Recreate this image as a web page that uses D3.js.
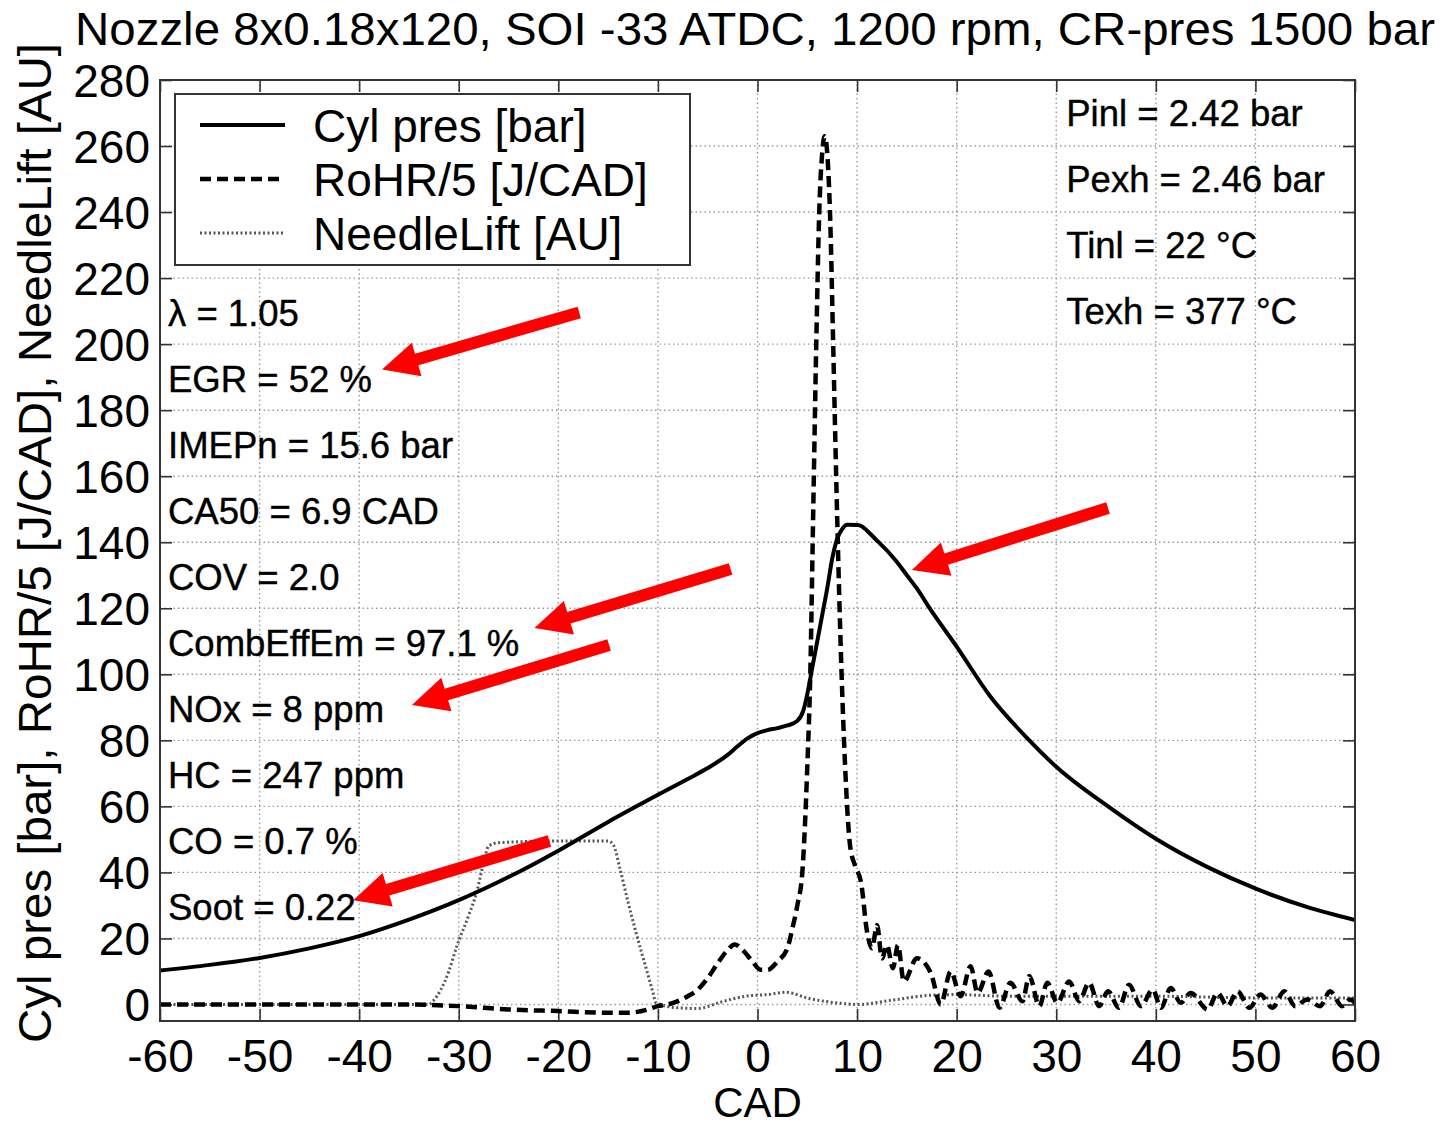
<!DOCTYPE html>
<html><head><meta charset="utf-8">
<script src="https://cdn.jsdelivr.net/npm/d3@7"></script>
<style>
html,body{margin:0;padding:0;background:#fff;}
svg{display:block;font-family:"Liberation Sans",Arial,sans-serif;}
</style></head>
<body><svg id="chart" width="1448" height="1126"></svg>
<script>
// ---------- data ----------
const titleText = "Nozzle 8x0.18x120, SOI -33 ATDC, 1200 rpm, CR-pres 1500 bar";
const xLabel = "CAD";
const yLabel = "Cyl pres [bar], RoHR/5 [J/CAD], NeedleLift [AU]";
const xTicks = [-60,-50,-40,-30,-20,-10,0,10,20,30,40,50,60];
const yTicks = [0,20,40,60,80,100,120,140,160,180,200,220,240,260,280];
const seriesNames = ["Cyl pres [bar]", "RoHR/5 [J/CAD]", "NeedleLift [AU]"];

const pressCad = [-60,-55,-50,-45,-40,-35,-30,-25,-20,-15,-10,-7,-5,-3,-2,-1,0,1,2,3,4,4.6,5,5.5,6,6.5,7,7.5,8,8.5,9,10,10.5,11,12,13,14,15,16,17.4,20,23.4,27.3,30,35.2,40,45.2,50.1,55.3,60];
const pressVal = [10.3,12,14.1,17,20.7,25.7,31.6,38.6,46.6,55.3,63.5,68.3,71.6,75.6,78.2,80.6,82.2,83.1,83.7,84.5,85.9,89,94,102,110,118,126,135,141,144,145.3,145.2,144.8,143.5,140.5,137.5,134,130,126,119.5,108.4,93.2,80,72,60,50.2,41.6,35,29.4,25.6];

const rohrCad = [-60,-50,-40,-35,-30,-25,-20,-15,-13,-11,-10,-9,-8,-7,-6,-5,-4,-3,-2.3,-1.5,-0.5,0.3,1,2,3,3.5,4,4.5,5,5.3,5.6,5.9,6.2,6.5,6.75,7,7.3,7.6,7.9,8.3,8.8,9.3,9.8,10.4,11,11.5,12,12.5,13,13.6,14.1,14.7,16,17.4,18.4,19.4,20.4,21.4,22.1,23.2,24.3,25.4,26.6,27.3,28.3,29.1,30.1,31.3,32.3,33.3,34.3,35.2,36.3,37.3,38.5,39.7,40.5,41.5,42.5,43.5,45.2,46.2,47.2,48.2,49.4,50.5,51.7,52.9,54,55.2,56.5,57.5,58.7,59.5,60];
const rohrVal = [0,0,0,0,-0.5,-1.5,-2,-2.5,-2.5,-1.5,-0.5,0,1,2.5,4.5,8,12.5,16.5,18.2,16.5,13,10.5,10.5,13,17,23,30,40,72,100,150,200,240,258,263,258,238,200,160,114,72,48,42,37,22,17,24,14,18,11,18,7,14,9.6,0,10,2.5,11.6,3.5,10,-1,6.6,1,8.6,-0.5,6.6,0.5,7,1,6.6,-0.5,4,-1,6,-0.5,4.5,-1,5,0.5,3.5,-1.5,3.5,-0.5,4,-1,3,-1,4,-0.5,1.5,-0.5,4,-0.5,1.5,0.5];

const needleCad = [-60,-40,-33,-32.6,-31,-30.2,-29,-28.2,-27.5,-27,-26,-20,-15,-14.5,-13.8,-13,-12.1,-11,-10.5,-10.2,-8,-6,-3.6,-1,1,2.8,5.2,8.6,10.1,13.5,17.4,20,25,30,40,50,60];
const needleVal = [0,0,0,1,10,17.6,27,34,43,48,49,49.5,49.5,48.5,41,31,20.7,9,3.6,0.5,-1,-1.2,0.8,2.6,3,3.7,1.8,0.3,0,1.3,2.8,3,2.5,2.5,2.5,2,2];

const leftNotes = ["\u03bb = 1.05","EGR = 52 %","IMEPn = 15.6 bar","CA50 = 6.9 CAD","COV = 2.0","CombEffEm = 97.1 %","NOx = 8 ppm","HC = 247 ppm","CO = 0.7 %","Soot = 0.22"];
const rightNotes = ["Pinl = 2.42 bar","Pexh = 2.46 bar","Tinl = 22 \u00b0C","Texh = 377 \u00b0C"];

// red arrows: tail -> tip, in data units (CAD, value)
const arrowTail = [[-17.9,209.6],[-2.7,131.9],[-14.9,108.9],[-20.9,49.5],[35.2,150.4]];
const arrowTip  = [[-37.7,192.3],[-22.4,114.0],[-34.7,90.7],[-40.6,31.6],[15.5,131.6]];

// ---------- layout ----------
const svg = d3.select("#chart");
const L = 160, R = 1355, T = 80, B = 1021;
const x = d3.scaleLinear().domain([-60,60]).range([L,R]);
const y = d3.scaleLinear().domain([-5,280]).range([B,T]);

svg.append("rect").attr("width",1448).attr("height",1126).attr("fill","#fff");

// grid
const grid = svg.append("g");
grid.selectAll(".gx").data(xTicks.slice(1,-1)).join("line")
  .attr("x1",d=>x(d)).attr("x2",d=>x(d)).attr("y1",T).attr("y2",B)
  .attr("stroke","#9a9a9a").attr("stroke-width",1.4).attr("stroke-dasharray","1.5,3");
grid.selectAll(".gy").data(yTicks).join("line")
  .attr("x1",L).attr("x2",R).attr("y1",d=>y(d)).attr("y2",d=>y(d))
  .attr("stroke","#9a9a9a").attr("stroke-width",1.4).attr("stroke-dasharray","1.5,3");

// axes via d3
const fs = 46;
const fmt = d => String(d);
const xAxisB = svg.append("g").attr("transform",`translate(0,${B})`)
  .call(d3.axisBottom(x).tickValues(xTicks).tickFormat(fmt).tickSizeInner(-12).tickSizeOuter(0).tickPadding(18));
const xAxisT = svg.append("g").attr("transform",`translate(0,${T})`)
  .call(d3.axisTop(x).tickValues(xTicks).tickSizeInner(-12).tickSizeOuter(0).tickFormat(""));
const yAxisL = svg.append("g").attr("transform",`translate(${L},0)`)
  .call(d3.axisLeft(y).tickValues(yTicks).tickFormat(fmt).tickSizeInner(-12).tickSizeOuter(0).tickPadding(10));
const yAxisR = svg.append("g").attr("transform",`translate(${R},0)`)
  .call(d3.axisRight(y).tickValues(yTicks).tickSizeInner(-12).tickSizeOuter(0).tickFormat(""));
[xAxisB,xAxisT,yAxisL,yAxisR].forEach(g=>{
  g.select(".domain").remove();
  g.selectAll("line").attr("stroke","#333").attr("stroke-width",1.6);
  g.selectAll("text").attr("fill","#000").attr("font-size",fs)
    .attr("font-family",'"Liberation Sans",Arial,sans-serif');
});
xAxisB.selectAll("text").attr("dy","0.71em");
yAxisL.selectAll("text").attr("dy","0.35em");

// clip
svg.append("clipPath").attr("id","clip").append("rect")
  .attr("x",L).attr("y",T).attr("width",R-L).attr("height",B-T);
const plot = svg.append("g").attr("clip-path","url(#clip)");

const line = d3.line().x(d=>x(d[0])).y(d=>y(d[1])).curve(d3.curveMonotoneX);
const styles = [
  {stroke:"#000", width:4, dash:null},
  {stroke:"#000", width:4.5, dash:"11,6"},
  {stroke:"#555", width:3, dash:"2,2.5"}
];
const series = [
  d3.zip(pressCad, pressVal),
  d3.zip(rohrCad, rohrVal),
  d3.zip(needleCad, needleVal)
];
[2,1,0].forEach(i=>{
  plot.append("path").datum(series[i]).attr("d",line)
    .attr("fill","none").attr("stroke",styles[i].stroke)
    .attr("stroke-width",styles[i].width)
    .attr("stroke-dasharray",styles[i].dash)
    .attr("stroke-linejoin","round");
});

// frame
svg.append("rect").attr("x",L).attr("y",T).attr("width",R-L).attr("height",B-T)
  .attr("fill","none").attr("stroke","#333").attr("stroke-width",2);

// legend
const lg = svg.append("g");
lg.append("rect").attr("x",175).attr("y",94).attr("width",515).attr("height",171)
  .attr("fill","#fff").attr("stroke","#333").attr("stroke-width",2);
seriesNames.forEach((nm,i)=>{
  const yy = 125 + i*54;
  lg.append("line").attr("x1",200).attr("x2",285).attr("y1",yy).attr("y2",yy)
    .attr("stroke",styles[i].stroke).attr("stroke-width",styles[i].width)
    .attr("stroke-dasharray",styles[i].dash);
  lg.append("text").attr("x",313).attr("y",yy+17).attr("font-size",fs).attr("fill","#000").text(nm);
});

// notes
const nfs = 36.5;
svg.append("g").selectAll("text").data(leftNotes).join("text")
  .attr("x",x(-60)+8).attr("y",(d,i)=>y(210-20*i)+15)
  .attr("font-size",nfs).attr("fill","#000").attr("stroke","#000").attr("stroke-width",0.4)
  .text(d=>d);
svg.append("g").selectAll("text").data(rightNotes).join("text")
  .attr("x",x(30)+10).attr("y",(d,i)=>y(270-20*i)+12.5)
  .attr("font-size",nfs).attr("fill","#000").attr("stroke","#000").attr("stroke-width",0.4)
  .text(d=>d);

// arrows
const arrows = d3.zip(arrowTail, arrowTip);
svg.append("g").selectAll("path").data(arrows).join("path")
  .attr("fill","#ff0000")
  .attr("d",([s,t])=>{
    const sx=x(s[0]), sy=y(s[1]), tx=x(t[0]), ty=y(t[1]);
    const dx=sx-tx, dy=sy-ty, len=Math.hypot(dx,dy);
    const ux=dx/len, uy=dy/len, nx=-uy, ny=ux;
    const hl=36, hw=17.5, sw=6;
    const bx=tx+ux*hl, by=ty+uy*hl;
    const p=[[tx,ty],[bx+nx*hw,by+ny*hw],[bx+nx*sw,by+ny*sw],[sx+nx*sw,sy+ny*sw],
             [sx-nx*sw,sy-ny*sw],[bx-nx*sw,by-ny*sw],[bx-nx*hw,by-ny*hw]];
    return "M"+p.map(q=>q.join(",")).join("L")+"Z";
  });

// title and labels
svg.append("text").attr("x",75).attr("y",45).attr("font-size",46).attr("fill","#000")
  .attr("textLength",1360).attr("lengthAdjust","spacingAndGlyphs").text(titleText);
svg.append("text").attr("x",(L+R)/2).attr("y",1117).attr("text-anchor","middle")
  .attr("font-size",42).attr("fill","#000").text(xLabel);
svg.append("text").attr("transform","translate(51,543) rotate(-90)").attr("text-anchor","middle")
  .attr("font-size",46).attr("fill","#000").attr("textLength",1000)
  .attr("lengthAdjust","spacingAndGlyphs").text(yLabel);
</script></body></html>
